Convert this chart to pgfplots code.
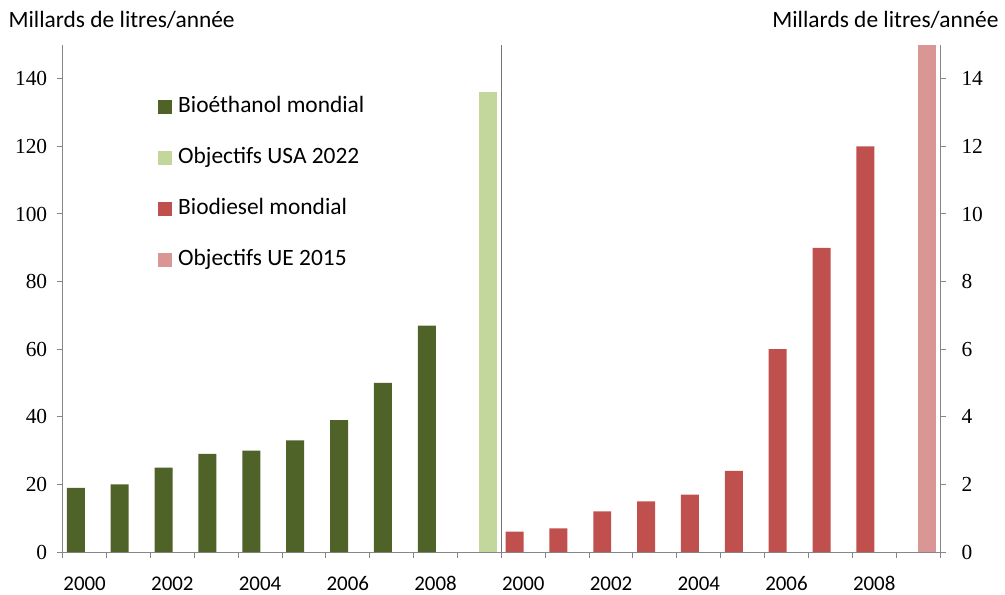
\documentclass[border=0pt]{standalone}
\usepackage{fontspec}
\setmainfont{Carlito}
\newfontfamily\tickfont{Liberation Serif}
\usepackage{pgfplots}
\pgfplotsset{compat=1.18}
\definecolor{ethG}{HTML}{4F6228}
\definecolor{usaG}{HTML}{C3D69B}
\definecolor{bioR}{HTML}{C0504D}
\definecolor{ueR}{HTML}{D99694}
\definecolor{axG}{HTML}{868686}
\pgfplotsset{
  sqlegend/.style={legend image code/.code={\path[##1,draw=none] (0bp,-7bp) rectangle (14bp,7bp);}},
  base/.style={
    scale only axis, width=877.3bp, height=507bp,
    xmin=0, xmax=20, ymin=0,
    axis line style={axG, line width=1bp},
    tick style={axG, line width=1bp},
    major tick length=6bp,
    tick align=outside,
    /pgf/number format/assume math mode=true,
    clip=false,
  },
}
\begin{document}
\begin{tikzpicture}
\begin{axis}[base,
  ymax=150,
  axis x line*=bottom, axis y line*=left,
  ytick={0,20,...,140},
  xtick={0,...,20}, xticklabels={},
  extra x ticks={0.5,2.5,4.5,6.5,8.5,10.5,12.5,14.5,16.5,18.5},
  extra x tick labels={2000,2002,2004,2006,2008,2000,2002,2004,2006,2008},
  extra x tick style={major tick length=0pt, tick style={draw=none},
     xticklabel style={font=\fontsize{21}{24}\selectfont, yshift=-21bp}},
  yticklabel style={font=\tickfont\fontsize{21.5}{25}\selectfont, xshift=-6bp},
  legend style={at={(rel axis cs:0.1086,0.8994)}, anchor=north west, draw=none, fill=none,
    font=\fontsize{23.5}{27}\selectfont, row sep=30bp, inner sep=0pt,
    nodes={inner sep=0pt, text height=16bp, text depth=5bp}},
  legend cell align=left,
]
\addplot[ybar, bar width=0.41, bar shift=0pt, fill=ethG, draw=none, sqlegend]
  coordinates {(0.3,19) (1.3,20) (2.3,25) (3.3,29) (4.3,30) (5.3,33) (6.3,39) (7.3,50) (8.3,67)};
\addlegendentry{\hspace{6bp}Bioéthanol mondial}
\addplot[ybar, bar width=0.41, bar shift=0pt, fill=usaG, draw=none, sqlegend]
  coordinates {(9.7,136)};
\addlegendentry{\hspace{6bp}Objectifs USA 2022}
\addlegendimage{fill=bioR, draw=none, sqlegend}
\addlegendentry{\hspace{6bp}Biodiesel mondial}
\addlegendimage{fill=ueR, draw=none, sqlegend}
\addlegendentry{\hspace{6bp}Objectifs UE 2015}
\draw[color=black!55, line width=1.5bp] (axis cs:10,0) -- (axis cs:10,150);
\node[anchor=west, font=\fontsize{23.5}{27}\selectfont] at (rel axis cs:0,1) [xshift=-57.7bp, yshift=25bp] {Millards de litres/année};
\node[anchor=east, font=\fontsize{23.5}{27}\selectfont] at (rel axis cs:0,1) [xshift=939.3bp, yshift=25bp] {Millards de litres/année};
\end{axis}
\begin{axis}[base,
  ymax=15,
  axis x line=none, axis y line*=right,
  ytick={0,2,...,14},
  yticklabel style={font=\tickfont\fontsize{21.5}{25}\selectfont, xshift=12bp},
]
\addplot[ybar, bar width=0.41, bar shift=0pt, fill=bioR, draw=none]
  coordinates {(10.3,0.6) (11.3,0.7) (12.3,1.2) (13.3,1.5) (14.3,1.7) (15.3,2.4) (16.3,6.0) (17.3,9.0) (18.3,12.0)};
\addplot[ybar, bar width=0.41, bar shift=0pt, fill=ueR, draw=none]
  coordinates {(19.7,15)};
\end{axis}
\pgfresetboundingbox
\path (-62.7bp,-43bp) rectangle (942.3bp,552bp);
\end{tikzpicture}
\end{document}
